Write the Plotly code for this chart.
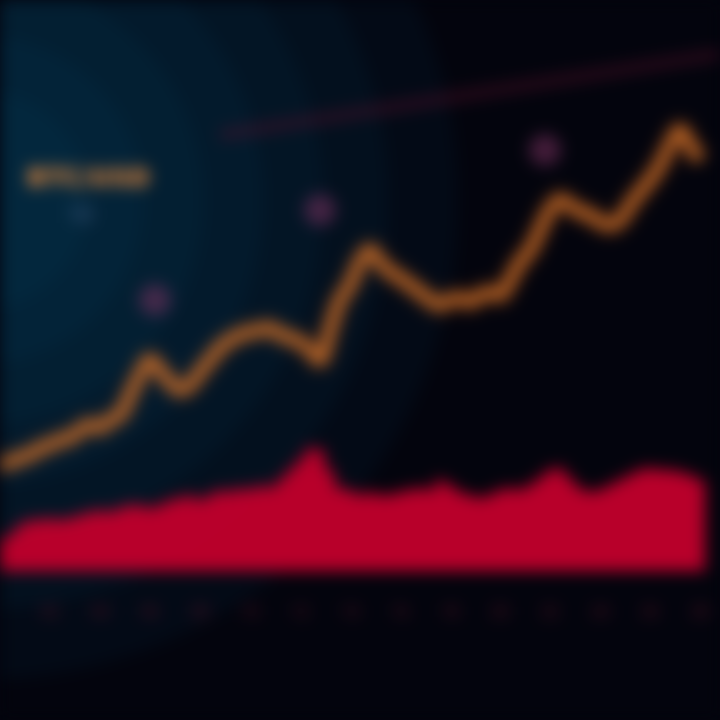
import plotly.graph_objects as go

# ---- data ----
idx = list(range(71))
price = [22.5, 23.0, 23.7, 24.2, 25.3, 25.8, 26.7, 27.0, 28.3, 29.2,
         28.7, 30.0, 30.8, 34.2, 37.5, 40.0, 38.3, 36.3, 35.0, 35.8,
         38.0, 40.0, 42.0, 43.3, 44.2, 44.7, 45.0, 45.3, 44.3, 43.7,
         43.0, 41.7, 40.0, 45.0, 50.0, 52.5, 56.3, 58.3, 56.3, 54.7,
         53.7, 52.5, 51.3, 50.0, 49.2, 50.0, 50.3, 49.7, 50.7, 51.3,
         50.8, 53.3, 56.3, 58.3, 61.7, 65.0, 66.7, 65.8, 64.7, 64.2,
         63.0, 62.5, 63.3, 65.8, 68.0, 70.0, 72.5, 75.8, 78.3, 75.8, 73.3]
volume = [5.5, 6.4, 8.1, 9.0, 9.0, 9.4, 9.0, 9.4, 9.9, 10.4,
          10.8, 10.4, 11.1, 11.6, 11.6, 11.1, 11.6, 12.5, 12.9, 13.4,
          12.5, 13.4, 14.3, 13.9, 14.6, 14.3, 15.1, 14.6, 16.0, 17.8,
          19.5, 21.6, 21.3, 17.8, 14.6, 14.3, 13.4, 13.9, 13.4, 13.4,
          13.9, 14.3, 14.6, 14.3, 16.0, 15.1, 13.9, 13.4, 12.9, 13.4,
          14.3, 14.6, 14.3, 15.1, 16.4, 17.8, 18.1, 16.4, 14.6, 13.9,
          14.3, 15.1, 16.0, 16.9, 17.8, 18.1, 17.8, 17.8, 17.4, 16.9, 16.0]
trend_x = [22, 30, 38, 46, 54, 62, 72]
trend_y = [77.5, 79.5, 81.8, 84.0, 86.2, 88.5, 91.0]
peak_x = [15.5, 32, 54.5]
peak_y = [50.0, 65.0, 75.0]
tick_vals = [5, 10, 15, 20, 25, 30, 35, 40, 45, 50, 55, 60, 65, 70]
tick_text = ["02", "04", "06", "08", "10", "12", "14", "16", "18", "20", "22", "24", "26", "28"]

fig = go.Figure()

# volume (secondary axis)
fig.add_trace(go.Bar(x=idx, y=volume, yaxis="y2", marker=dict(color="#c2002c", line=dict(width=0)),
                     opacity=0.95, name="Volume", showlegend=False))
# trend (faint)
fig.add_trace(go.Scatter(x=trend_x, y=trend_y, mode="lines",
                         line=dict(color="rgba(95,18,45,0.45)", width=10), showlegend=False))
# glow under price
fig.add_trace(go.Scatter(x=idx, y=price, mode="lines",
                         line=dict(color="rgba(220,100,30,0.28)", width=22, shape="spline"), showlegend=False))
fig.add_trace(go.Scatter(x=idx, y=price, mode="lines",
                         line=dict(color="#d8762a", width=8, shape="spline"), showlegend=False))
# peaks
fig.add_trace(go.Scatter(x=peak_x, y=peak_y, mode="markers",
                         marker=dict(color="rgba(120,50,95,0.55)", size=32), showlegend=False))

# background glow
shapes = []
cx, cy = -0.03, (600 - 200) / 600
for r in [480, 410, 345, 285, 225, 165, 110]:
    shapes.append(dict(type="circle", xref="paper", yref="paper", layer="below",
                       x0=cx - r / 720, x1=cx + r / 720, y0=cy - r / 600, y1=cy + r / 600,
                       fillcolor="rgba(12,95,140,0.075)", line=dict(width=0)))

fig.update_layout(
    width=720, height=720,
    margin=dict(l=0, r=0, t=0, b=120),
    paper_bgcolor="#03040d", plot_bgcolor="rgba(0,0,0,0)",
    shapes=shapes, bargap=0,
    xaxis=dict(range=[0, 72], showgrid=False, zeroline=False, showline=False,
               tickvals=tick_vals, ticktext=tick_text,
               tickfont=dict(color="#5a1428", size=16, family="Roboto")),
    yaxis=dict(range=[0, 100], visible=False),
    yaxis2=dict(range=[-5, 100], overlaying="y", visible=False),
    annotations=[
        dict(text="<b>BTC/USD</b>", x=0.035, y=(600 - 177) / 600, xref="paper", yref="paper",
             xanchor="left", yanchor="middle", showarrow=False,
             font=dict(color="#f8903c", size=25, family="DejaVu Sans")),
        dict(text="1D", x=0.09, y=(600 - 215) / 600, xref="paper", yref="paper",
             xanchor="left", yanchor="middle", showarrow=False,
             font=dict(color="rgba(110,130,180,0.6)", size=22, family="Roboto")),
    ],
)

fig.write_html("out.html", config={"displayModeBar": False}, post_script=(
    "document.body.style.background='#03040d';document.body.style.margin='0';"
    "document.documentElement.style.background='#03040d';"
    "document.querySelectorAll('.plotly-graph-div').forEach(function(d){d.style.filter='blur(8px)';});"))
